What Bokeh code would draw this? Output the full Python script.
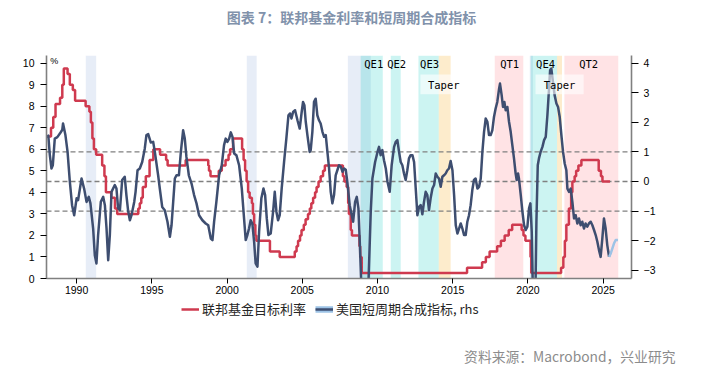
from bokeh.plotting import figure
from bokeh.layouts import column
from bokeh.models import (Range1d, LinearAxis, FixedTicker, BoxAnnotation, Span,
                          Label, Legend, LegendItem)
from bokeh.embed import file_html
from bokeh.resources import INLINE

# ---------------- data ----------------
# Fed funds target rate (left axis, %): change dates and levels
fed_x = [1988.0, 1988.3, 1988.45, 1988.6, 1988.9, 1989.05, 1989.15, 1989.4, 1989.55, 1989.75,
         1989.9, 1990.6, 1990.85, 1990.95, 1991.05, 1991.15, 1991.3, 1991.7, 1991.85, 1991.95,
         1992.3, 1992.55, 1992.7, 1994.1, 1994.2, 1994.3, 1994.4, 1994.6, 1994.85, 1995.1,
         1995.55, 1995.95, 1996.05, 1997.25, 1998.75, 1998.8, 1998.9, 1999.45, 1999.65, 1999.9,
         2000.1, 2000.2, 2000.4, 2001.0, 2001.1, 2001.2, 2001.3, 2001.4, 2001.5, 2001.65,
         2001.72, 2001.8, 2001.88, 2001.95, 2002.85, 2003.5, 2004.5, 2004.62, 2004.72, 2004.85,
         2004.95, 2005.1, 2005.22, 2005.38, 2005.5, 2005.6, 2005.72, 2005.85, 2005.95, 2006.08,
         2006.22, 2006.38, 2006.5, 2007.7, 2007.8, 2007.95, 2008.05, 2008.1, 2008.22, 2008.3,
         2008.8, 2008.85, 2008.95, 2015.95, 2016.95, 2017.2, 2017.45, 2017.95, 2018.2, 2018.45,
         2018.72, 2018.95, 2019.58, 2019.7, 2019.83, 2020.17, 2020.22, 2022.2, 2022.35, 2022.45,
         2022.55, 2022.72, 2022.87, 2022.95, 2023.1, 2023.2, 2023.35, 2023.55, 2024.7, 2024.85,
         2024.95, 2025.45]
fed_y = [6.6, 7.0, 7.5, 8.1, 8.4, 9.0, 9.75, 9.5, 9.0, 8.75,
         8.25, 8.0, 7.75, 7.25, 6.5, 6.0, 5.75, 5.25, 4.75, 4.0,
         3.75, 3.25, 3.0, 3.25, 3.5, 3.75, 4.25, 4.75, 5.5, 6.0,
         5.75, 5.5, 5.25, 5.5, 5.25, 5.0, 4.75, 5.0, 5.25, 5.5,
         5.75, 6.0, 6.5, 6.0, 5.5, 5.0, 4.5, 4.0, 3.75, 3.5,
         3.0, 2.5, 2.0, 1.75, 1.25, 1.0, 1.25, 1.5, 1.75, 2.0,
         2.25, 2.5, 2.75, 3.0, 3.25, 3.5, 3.75, 4.0, 4.25, 4.5,
         4.75, 5.0, 5.25, 4.75, 4.5, 4.25, 3.5, 3.0, 2.25, 2.0,
         1.5, 1.0, 0.25, 0.5, 0.75, 1.0, 1.25, 1.5, 1.75, 2.0,
         2.25, 2.5, 2.25, 2.0, 1.75, 1.0, 0.25, 0.5, 1.0, 1.75,
         2.5, 3.25, 4.0, 4.5, 4.75, 5.0, 5.25, 5.5, 5.0, 4.75,
         4.5, 4.5]

# US short-cycle composite indicator (right axis)
cycle_x = [1988.0, 1988.12, 1988.22, 1988.33, 1988.42, 1988.55, 1988.72, 1988.89, 1989.05, 1989.1,
           1989.26, 1989.4, 1989.55, 1989.7, 1989.84, 1990.0, 1990.1, 1990.33, 1990.5, 1990.66,
           1990.81, 1990.92, 1991.1, 1991.21, 1991.32, 1991.43, 1991.61, 1991.77, 1991.88, 1991.99,
           1992.1, 1992.21, 1992.32, 1992.54, 1992.65, 1992.76, 1992.88, 1993.03, 1993.2, 1993.31,
           1993.42, 1993.54, 1993.65, 1993.83, 1993.92, 1994.05, 1994.2, 1994.36, 1994.53, 1994.64,
           1994.76, 1994.93, 1995.09, 1995.2, 1995.42, 1995.53, 1995.69, 1995.86, 1996.04, 1996.2,
           1996.31, 1996.42, 1996.53, 1996.64, 1996.8, 1996.93, 1997.08, 1997.19, 1997.3, 1997.46,
           1997.64, 1997.81, 1997.97, 1998.14, 1998.36, 1998.58, 1998.75, 1998.92, 1999.03, 1999.14,
           1999.29, 1999.47, 1999.65, 1999.8, 1999.91, 2000.02, 2000.14, 2000.25, 2000.36, 2000.47,
           2000.62, 2000.8, 2000.98, 2001.13, 2001.24, 2001.35, 2001.46, 2001.57, 2001.68, 2001.8,
           2001.9, 2002.02, 2002.13, 2002.28, 2002.42, 2002.53, 2002.64, 2002.75, 2002.9, 2003.06,
           2003.17, 2003.28, 2003.39, 2003.5, 2003.63, 2003.79, 2003.94, 2004.08, 2004.19, 2004.28,
           2004.39, 2004.52, 2004.68, 2004.83, 2004.96, 2005.05, 2005.14, 2005.23, 2005.34, 2005.49,
           2005.56, 2005.67, 2005.78, 2005.89, 2006.0, 2006.11, 2006.22, 2006.34, 2006.45, 2006.56,
           2006.67, 2006.78, 2006.89, 2007.0, 2007.11, 2007.22, 2007.33, 2007.44, 2007.56, 2007.67,
           2007.78, 2007.89, 2008.0, 2008.15, 2008.29, 2008.38, 2008.51, 2008.62, 2008.73, 2008.82,
           2008.93, 2009.1, 2009.3, 2009.4, 2009.55, 2009.66, 2009.84, 2010.0, 2010.1, 2010.21,
           2010.32, 2010.43, 2010.55, 2010.66, 2010.81, 2010.94, 2011.1, 2011.21, 2011.32, 2011.43,
           2011.54, 2011.65, 2011.76, 2011.87, 2011.98, 2012.09, 2012.2, 2012.32, 2012.43, 2012.54,
           2012.65, 2012.76, 2012.87, 2012.98, 2013.09, 2013.2, 2013.31, 2013.42, 2013.53, 2013.65,
           2013.76, 2013.87, 2013.98, 2014.09, 2014.2, 2014.31, 2014.42, 2014.53, 2014.64, 2014.75,
           2014.86, 2014.98, 2015.09, 2015.2, 2015.31, 2015.42, 2015.53, 2015.64, 2015.75, 2015.86,
           2015.97, 2016.08, 2016.19, 2016.3, 2016.41, 2016.52, 2016.64, 2016.75, 2016.86, 2016.97,
           2017.08, 2017.19, 2017.3, 2017.41, 2017.52, 2017.63, 2017.74, 2017.85, 2017.96, 2018.08,
           2018.14, 2018.25, 2018.34, 2018.43, 2018.52, 2018.63, 2018.74, 2018.85, 2018.96, 2019.07,
           2019.18, 2019.25, 2019.34, 2019.4, 2019.52, 2019.63, 2019.74, 2019.85, 2019.96, 2020.07,
           2020.16, 2020.25, 2020.33, 2020.42, 2020.5, 2020.56, 2020.65, 2020.73, 2020.84, 2020.96,
           2021.07, 2021.18, 2021.29, 2021.4, 2021.47, 2021.55, 2021.66, 2021.77, 2021.89, 2022.0,
           2022.11, 2022.22, 2022.33, 2022.44, 2022.55, 2022.62, 2022.73, 2022.84, 2022.95, 2023.06,
           2023.17, 2023.28, 2023.39, 2023.5, 2023.61, 2023.72, 2023.83, 2023.94, 2024.05, 2024.17,
           2024.28, 2024.39, 2024.5, 2024.61, 2024.72, 2024.83, 2024.94, 2025.05, 2025.16, 2025.27,
           2025.39]
cycle_y = [1.50, 1.55, 0.90, 0.44, 0.55, 1.45, 1.50, 1.62, 1.75, 1.96,
           1.56, 1.00, 0.00, -0.80, -1.14, -0.57, -0.63, 0.10, -0.24, -0.69,
           -0.52, -0.74, -1.59, -2.49, -2.77, -1.81, -0.69, -0.52, -0.80, -1.59,
           -2.66, -1.81, -0.35, -0.12, -0.24, -0.91, -0.97, 0.05, 0.16, -0.46,
           -0.97, -1.31, -1.14, -0.69, -0.35, 0.38, 0.44, 0.66, 1.11, 1.57,
           1.60, 1.32, 1.34, 1.00, 0.21, -0.24, -0.86, -0.97, -1.36, -1.87,
           -1.48, -0.69, 0.10, 0.21, 0.21, 1.00, 1.73, 1.45, 0.83, 0.21,
           -0.07, -0.46, -0.74, -1.14, -1.31, -1.42, -1.48, -1.93, -1.98, -1.36,
           -0.69, 0.21, 0.55, 1.23, 1.45, 1.34, 1.45, 1.66, 1.51, 0.95,
           0.89, 0.55, -0.24, -1.25, -1.98, -1.81, -1.59, -1.31, -1.42, -2.04,
           -2.77, -2.88, -1.70, -0.57, -0.24, -0.46, -1.25, -1.81, -1.76, -1.02,
           -0.35, -1.02, -1.31, -1.14, -0.24, 0.66, 1.45, 2.24, 2.30, 2.13,
           2.35, 2.41, 2.07, 1.79, 2.35, 2.69, 2.58, 2.02, 1.57, 1.00,
           1.06, 1.68, 2.69, 2.80, 2.24, 2.07, 1.96, 1.68, 1.51, 1.57,
           1.00, 0.44, -0.35, -0.74, -0.46, 0.21, 0.38, 0.55, 0.50, 0.33,
           0.44, 0.40, -0.05, -0.80, -1.14, -1.36, -0.69, -0.52, -0.91, -2.04,
           -3.60, -4.50, -4.20, -3.40, -1.02, 0.10, 0.66, 1.00, 1.17, 0.89,
           1.06, 0.72, 0.44, 0.00, -0.35, 0.55, 1.17, 1.34, 1.40, 1.00,
           0.66, 0.55, 0.27, 0.05, 0.38, 0.78, 0.89, 0.89, 0.66, -0.24,
           -1.14, -0.86, -0.80, -1.11, -0.69, -0.35, -0.46, -0.97, -0.57, -0.24,
           -0.12, 0.27, 0.16, 0.10, -0.18, 0.16, 0.21, 0.27, 0.38, 0.44,
           0.69, 0.38, -0.46, -1.48, -1.76, -1.59, -1.42, -1.59, -1.81, -1.81,
           -1.36, -1.14, -0.80, -0.29, 0.05, 0.10, -0.24, -0.18, 0.10, 1.00,
           1.68, 2.13, 2.02, 1.57, 1.57, 1.73, 2.18, 2.47, 2.69, 3.14,
           3.31, 2.92, 2.52, 2.69, 2.41, 2.52, 2.02, 1.68, 1.23, 0.78,
           0.27, 0.05, 0.27, 0.10, -0.46, -1.02, -1.48, -1.64, -1.53, -0.91,
           -0.74, -1.70, -3.80, -4.50, -3.60, -1.36, 0.55, 0.78, 1.00, 1.17,
           1.40, 1.51, 2.24, 3.14, 3.76, 3.82, 3.37, 2.92, 2.64, 2.52,
           2.18, 1.57, 1.00, 0.61, 0.38, -0.24, -0.35, -0.24, -0.69, -1.25,
           -1.14, -1.42, -1.25, -1.48, -1.36, -1.59, -1.42, -1.53, -1.42, -1.36,
           -1.48, -1.64, -1.81, -2.04, -2.32, -2.55, -1.93, -1.25, -1.59, -2.15,
           -2.55]
# latest (preliminary) part of the indicator, lighter colour
tail_x = [2025.39, 2025.5, 2025.61, 2025.72, 2025.83, 2025.98]
tail_y = [-2.55, -2.43, -2.26, -2.09, -1.98, -1.98]

# shaded periods (decimal years)
recession_start = [1990.61, 2001.31, 2008.03, 2020.12]
recession_end = [1991.30, 2001.97, 2009.55, 2020.33]
qe_start = [2008.88, 2010.88, 2012.72, 2020.18]
qe_end = [2010.35, 2011.54, 2014.07, 2021.93]
taper_start = [2014.07, 2021.93]
taper_end = [2014.86, 2022.26]
qt_start = [2017.79, 2022.42]
qt_end = [2019.69, 2026.0]

band_labels = ["QE1", "QE2", "QE3", "QT1", "QE4", "QT2"]
band_label_x = [2009.75, 2011.27, 2013.46, 2018.78, 2021.17, 2024.03]
taper_label_x = [2014.4, 2022.1]
taper_box_left = [2012.85, 2020.5]
taper_box_right = [2015.35, 2023.7]

x_ticks = [1990, 1995, 2000, 2005, 2010, 2015, 2020, 2025]
left_ticks = list(range(0, 11))
right_ticks = list(range(-3, 5))
ref_levels = [1, 0, -1]

TITLE = "图表 7：联邦基金利率和短周期合成指标"
SOURCE = "资料来源：Macrobond，兴业研究"
LEG_FED = "联邦基金目标利率"
LEG_CYCLE = "美国短周期合成指标, rhs"

RED = "#CF3A4F"
NAVY = "#3E4E70"
LIGHT = "#9DC3E6"
AXIS_GRAY = "#808080"
TICK_FONT = "Liberation Sans"
W = 703
NAN = float("nan")


def no_frame_align(f):
    try:
        f.frame_align = False
    except Exception:
        pass


def blank_figure(height):
    f = figure(width=W, height=height, output_backend="svg", toolbar_location=None,
               x_range=Range1d(0, W), y_range=Range1d(-height, 0),
               x_axis_type=None, y_axis_type=None,
               min_border=0, min_border_left=0, min_border_right=0,
               min_border_top=0, min_border_bottom=0)
    f.xgrid.visible = False
    f.ygrid.visible = False
    f.outline_line_color = None
    no_frame_align(f)
    return f

# ---------------- title strip ----------------
top = blank_figure(40)
top.add_layout(Label(x=351, y=-16, text=TITLE, text_font="Noto Sans CJK SC",
                     text_font_style="bold", text_font_size="14px", text_color="#8192AB",
                     text_align="center", text_baseline="middle"))

# ---------------- main chart ----------------
p = figure(width=W, height=257, output_backend="svg", toolbar_location=None,
           x_range=Range1d(1988.0, 2026.88), y_range=Range1d(0, 10.357),
           min_border_left=46, min_border_right=72, min_border_top=15, min_border_bottom=19)
p.extra_y_ranges = {"right": Range1d(-3.28, 4.26)}
p.xgrid.visible = False
p.ygrid.visible = False
p.outline_line_color = None
no_frame_align(p)


def style_axis(ax, tick_out, standoff):
    ax.axis_line_color = AXIS_GRAY
    ax.axis_line_width = 1.6
    ax.major_tick_line_color = "black"
    ax.major_tick_line_width = 1
    ax.major_tick_out = tick_out
    ax.major_tick_in = 0
    ax.minor_tick_line_color = None
    ax.major_label_text_font = TICK_FONT
    ax.major_label_text_font_size = "10.5px"
    ax.major_label_text_color = "black"
    ax.major_label_standoff = standoff


p.xaxis.ticker = FixedTicker(ticks=x_ticks)
style_axis(p.xaxis[0], 5, 2)
p.yaxis.ticker = FixedTicker(ticks=left_ticks)
style_axis(p.yaxis[0], 6, 6)

raxis = LinearAxis(y_range_name="right", ticker=FixedTicker(ticks=right_ticks))
style_axis(raxis, 7, 5)
p.add_layout(raxis, "right")


def add_bands(starts, ends, color, alpha):
    for s, e in zip(starts, ends):
        p.add_layout(BoxAnnotation(left=s, right=e, fill_color=color, fill_alpha=alpha,
                                   line_color=None, level="underlay"))


add_bands(recession_start, recession_end, "#4472C4", 0.13)
add_bands(qe_start, qe_end, "#00C8BE", 0.2)
add_bands(taper_start, taper_end, "#F5A000", 0.2)
add_bands(qt_start, qt_end, "#FF0014", 0.11)

for lv in ref_levels:
    p.add_layout(Span(location=lv, dimension="width", y_range_name="right",
                      line_color=AXIS_GRAY, line_width=1.3, line_dash="5 3", level="underlay"))

red = p.step(fed_x, fed_y, mode="after", line_color=RED, line_width=2.5)
dark = p.line(cycle_x, cycle_y, y_range_name="right", line_color=NAVY, line_width=2.5,
              line_join="round")
light = p.line(tail_x, tail_y, y_range_name="right", line_color=LIGHT, line_width=2.5,
               line_join="round")

for l, r in zip(taper_box_left, taper_box_right):
    p.add_layout(BoxAnnotation(left=l, right=r, top=3.62, bottom=2.95, y_range_name="right",
                               fill_color="white", fill_alpha=0.6, line_color=None))
for tx in taper_label_x:
    p.add_layout(Label(x=tx, y=3.27, y_range_name="right", text="Taper",
                       text_font="DejaVu Sans Mono", text_font_size="10.5px",
                       text_align="center", text_baseline="middle", text_color="black"))
for txt, tx in zip(band_labels, band_label_x):
    p.add_layout(Label(x=tx, y=3.96, y_range_name="right", text=txt,
                       text_font="DejaVu Sans Mono", text_font_size="10.5px",
                       text_align="center", text_baseline="middle", text_color="black"))

p.add_layout(Label(x=1988.25, y=10.1, text="%", text_font=TICK_FONT, text_font_size="9px",
                   text_align="left", text_baseline="middle", text_color="black"))

# ---------------- legend + source strip ----------------
bot = blank_figure(73)
leg_red = bot.line([NAN], [NAN], line_color=RED, line_width=2.5)
leg_light = bot.line([NAN], [NAN], line_color=LIGHT, line_width=6.5)
leg_dark = bot.line([NAN], [NAN], line_color=NAVY, line_width=2.5)
legend = Legend(items=[LegendItem(label=LEG_FED, renderers=[leg_red]),
                       LegendItem(label=LEG_CYCLE, renderers=[leg_light, leg_dark])],
                orientation="horizontal", location=(181, 52),
                label_text_font="Noto Sans CJK SC", label_text_font_size="13px",
                label_text_line_height=1.0,
                label_text_color="#262626", glyph_width=18, glyph_height=10, label_height=10,
                label_standoff=3, spacing=9, padding=0, margin=0,
                border_line_color=None, background_fill_alpha=0)
bot.add_layout(legend)
bot.add_layout(Label(x=675, y=-58, text=SOURCE, text_font="Noto Sans CJK SC",
                     text_font_size="13.8px", text_color="#8C8C8C",
                     text_align="right", text_baseline="middle"))

layout = column(top, p, bot, spacing=0)
open("out.html", "w").write(file_html(layout, INLINE))
